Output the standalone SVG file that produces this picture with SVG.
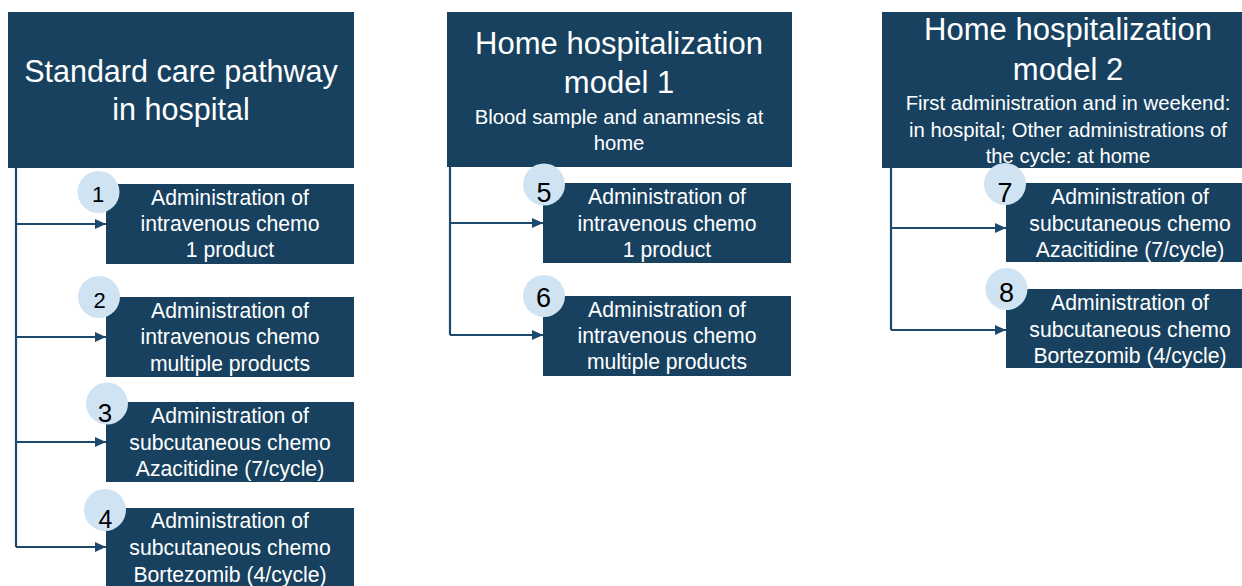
<svg xmlns="http://www.w3.org/2000/svg" width="1242" height="586" viewBox="0 0 1242 586">
<style>
.box{fill:#17415f}
.t{font-family:"Liberation Sans",Arial,sans-serif;fill:#ffffff;text-anchor:middle}
.title{font-size:30.5px}
.sub{font-size:20.3px}
.item{font-size:21.2px}
.badge{fill:#d0e3f3}
.num{font-family:"Liberation Sans",Arial,sans-serif;fill:#000000;text-anchor:middle}
.conn{fill:none;stroke:#1d4a6c;stroke-width:2.2}
</style>
<defs>
<marker id="arr" markerUnits="userSpaceOnUse" markerWidth="12" markerHeight="11" refX="11" refY="5" orient="auto">
<path d="M0,0 L11,5 L0,10 z" fill="#1d4a6c"/>
</marker>
</defs>
<rect width="1242" height="586" fill="#ffffff"/>

<g id="connectors">
<path class="conn" d="M16,168 V547"/>
<path class="conn" d="M16,224 H106" marker-end="url(#arr)"/>
<path class="conn" d="M16,337 H106" marker-end="url(#arr)"/>
<path class="conn" d="M16,442 H106" marker-end="url(#arr)"/>
<path class="conn" d="M16,547 H106" marker-end="url(#arr)"/>
<path class="conn" d="M450,167 V335"/>
<path class="conn" d="M450,223 H543" marker-end="url(#arr)"/>
<path class="conn" d="M450,335 H543" marker-end="url(#arr)"/>
<path class="conn" d="M891,168 V330"/>
<path class="conn" d="M891,228 H1006" marker-end="url(#arr)"/>
<path class="conn" d="M891,330 H1006" marker-end="url(#arr)"/>
</g>

<g id="standard">
<rect class="box" x="8" y="12" width="346" height="156"/>
<text class="t title" x="181" y="82">Standard care pathway</text>
<text class="t title" x="181" y="120">in hospital</text>
</g>

<g id="model1">
<rect class="box" x="447" y="12" width="345" height="155"/>
<text class="t title" x="619" y="54" style="font-size:31px">Home hospitalization</text>
<text class="t title" x="619" y="93" style="font-size:31px">model 1</text>
<text class="t sub" x="619" y="124">Blood sample and anamnesis at</text>
<text class="t sub" x="619" y="150">home</text>
</g>

<g id="model2">
<rect class="box" x="882" y="12" width="360" height="156"/>
<text class="t title" x="1068" y="40" style="font-size:31px">Home hospitalization</text>
<text class="t title" x="1068" y="80" style="font-size:31px">model 2</text>
<text class="t sub" x="1068" y="110">First administration and in weekend:</text>
<text class="t sub" x="1068" y="137">in hospital; Other administrations of</text>
<text class="t sub" x="1068" y="163">the cycle: at home</text>
</g>

<g id="item1">
<rect class="box" x="106" y="184" width="248" height="80"/>
<text class="t item" x="230" y="205">Administration of</text>
<text class="t item" x="230" y="231">intravenous chemo</text>
<text class="t item" x="230" y="257">1 product</text>
<circle class="badge" cx="98.5" cy="192" r="21"/>
<text class="num" x="98" y="202" font-size="22">1</text>
</g>

<g id="item2">
<rect class="box" x="106" y="297" width="248" height="80"/>
<text class="t item" x="230" y="318">Administration of</text>
<text class="t item" x="230" y="344">intravenous chemo</text>
<text class="t item" x="230" y="371">multiple products</text>
<circle class="badge" cx="99" cy="297" r="21"/>
<text class="num" x="99.5" y="308" font-size="22">2</text>
</g>

<g id="item3">
<rect class="box" x="106" y="402" width="248" height="80"/>
<text class="t item" x="230" y="423">Administration of</text>
<text class="t item" x="230" y="450">subcutaneous chemo</text>
<text class="t item" x="230" y="476">Azacitidine (7/cycle)</text>
<circle class="badge" cx="107" cy="403.5" r="21"/>
<text class="num" x="105" y="422" font-size="26">3</text>
</g>

<g id="item4">
<rect class="box" x="106" y="508" width="248" height="80"/>
<text class="t item" x="230" y="528">Administration of</text>
<text class="t item" x="230" y="555">subcutaneous chemo</text>
<text class="t item" x="230" y="582">Bortezomib (4/cycle)</text>
<circle class="badge" cx="105" cy="510" r="21"/>
<text class="num" x="105.5" y="528" font-size="25">4</text>
</g>

<g id="item5">
<rect class="box" x="543" y="183" width="248" height="80"/>
<text class="t item" x="667" y="204">Administration of</text>
<text class="t item" x="667" y="231">intravenous chemo</text>
<text class="t item" x="667" y="257">1 product</text>
<circle class="badge" cx="544" cy="184.5" r="21"/>
<text class="num" x="544" y="202" font-size="27">5</text>
</g>

<g id="item6">
<rect class="box" x="543" y="296" width="248" height="80"/>
<text class="t item" x="667" y="317">Administration of</text>
<text class="t item" x="667" y="343">intravenous chemo</text>
<text class="t item" x="667" y="369">multiple products</text>
<circle class="badge" cx="544" cy="296" r="21"/>
<text class="num" x="543.5" y="307" font-size="27">6</text>
</g>

<g id="item7">
<rect class="box" x="1006" y="183" width="236" height="79"/>
<text class="t item" x="1130" y="204">Administration of</text>
<text class="t item" x="1130" y="231">subcutaneous chemo</text>
<text class="t item" x="1130" y="257">Azacitidine (7/cycle)</text>
<circle class="badge" cx="1005" cy="184" r="21"/>
<text class="num" x="1005" y="202" font-size="27">7</text>
</g>

<g id="item8">
<rect class="box" x="1006" y="289" width="236" height="79"/>
<text class="t item" x="1130" y="310">Administration of</text>
<text class="t item" x="1130" y="337">subcutaneous chemo</text>
<text class="t item" x="1130" y="363">Bortezomib (4/cycle)</text>
<circle class="badge" cx="1006.5" cy="289" r="21"/>
<text class="num" x="1006.5" y="302" font-size="27">8</text>
</g>
</svg>
